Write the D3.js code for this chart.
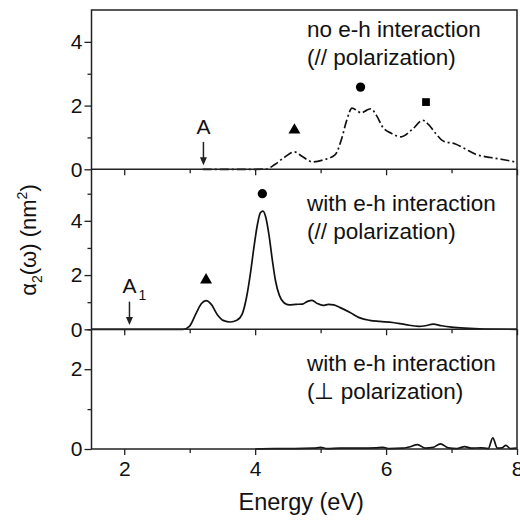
<!DOCTYPE html>
<html>
<head>
<meta charset="utf-8">
<script src="https://cdn.jsdelivr.net/npm/d3@7"></script>
<style>
  body { margin: 0; background: #fff; }
  text { font-family: "Liberation Sans", Arial, sans-serif; fill: #111; }
</style>
</head>
<body>
<div id="chart"></div>
<script>
// energies (eV) and alpha2 values (nm^2)
const noEhE = [3.2, 3.4, 3.6, 3.8, 4.0, 4.17, 4.3, 4.45, 4.6, 4.72, 4.88, 5.05, 5.22, 5.32, 5.4, 5.48, 5.55, 5.62, 5.7, 5.77, 5.85, 5.95, 6.08, 6.23, 6.4, 6.56, 6.65, 6.76, 6.88, 7.05, 7.2, 7.37, 7.6, 7.8, 8.0];
const noEhV = [0, 0, 0, 0, 0, 0.01, 0.15, 0.38, 0.55, 0.4, 0.23, 0.3, 0.45, 0.95, 1.55, 1.92, 1.85, 1.77, 1.85, 1.9, 1.7, 1.32, 1.13, 1.02, 1.25, 1.54, 1.4, 1.12, 0.88, 0.8, 0.65, 0.47, 0.37, 0.3, 0.22];

const ehParE = [1.5, 2.9, 3.0, 3.1, 3.18, 3.25, 3.33, 3.42, 3.52, 3.62, 3.72, 3.8, 3.87, 3.93, 3.98, 4.03, 4.08, 4.12, 4.16, 4.21, 4.26, 4.31, 4.37, 4.44, 4.52, 4.62, 4.72, 4.8, 4.87, 4.95, 5.04, 5.12, 5.2, 5.3, 5.45, 5.6, 5.75, 5.9, 6.1, 6.3, 6.5, 6.6, 6.72, 6.85, 7.0, 7.2, 7.5, 8.0];
const ehParV = [0, 0, 0.12, 0.6, 0.95, 1.06, 0.92, 0.55, 0.32, 0.27, 0.33, 0.55, 1.2, 2.1, 3.0, 3.8, 4.3, 4.36, 4.15, 3.5, 2.6, 1.8, 1.25, 0.98, 0.9, 0.92, 0.93, 1.03, 1.07, 0.95, 0.88, 0.92, 0.9, 0.8, 0.62, 0.42, 0.33, 0.29, 0.25, 0.17, 0.11, 0.13, 0.19, 0.13, 0.08, 0.04, 0.01, 0];

const ehPerpE = [4.0, 4.3, 4.6, 4.9, 5.0, 5.1, 5.3, 5.6, 5.85, 5.95, 6.05, 6.25, 6.35, 6.48, 6.6, 6.72, 6.83, 6.95, 7.08, 7.2, 7.3, 7.45, 7.56, 7.63, 7.7, 7.77, 7.83, 7.9, 8.0];
const ehPerpV = [0, 0.01, 0.01, 0.02, 0.04, 0.01, 0.02, 0.02, 0.03, 0.04, 0.01, 0.02, 0.05, 0.11, 0.02, 0.04, 0.13, 0.03, 0.01, 0.06, 0.02, 0.03, 0.01, 0.28, 0.02, 0.03, 0.09, 0.01, 0.02];

// axis ranges and ticks
const xDomain = [1.5, 8];
const xMajor = [2, 4, 6, 8];
const xMinor = [3, 5, 7];
const yDomains = [[0, 5], [0, 5.9], [0, 3]];
const yMajor = [[0, 2, 4], [0, 2, 4], [0, 2]];
const yMinor = [[1, 3], [1, 3, 5], [1, 3]];

// panel labels
const panelLine1 = ["no e-h interaction", "with e-h interaction", "with e-h interaction"];
const panelLine2 = ["(// polarization)", "(// polarization)", "(\u22a5 polarization)"];

// peak markers: [panel, shape, energy, value]
const markers = [
  [0, "triangle", 4.6, 1.23],
  [0, "circle", 5.61, 2.58],
  [0, "square", 6.61, 2.11],
  [1, "triangle", 3.25, 1.82],
  [1, "circle", 4.11, 5.0]
];
// arrows: [panel, label, sub, energy, textValue, arrowFrom, arrowTo]
const arrows = [
  [0, "A", "", 3.21, 1.12, 0.86, 0.13],
  [1, "A", "1", 2.08, 1.33, 1.02, 0.16]
];

const W = 520, H = 520;
const left = 91.5, right = 517;
const panelTops = [10, 169.3, 329.3];
const panelBots = [169.3, 329.3, 449];

const svg = d3.select("#chart").append("svg")
  .attr("width", W).attr("height", H);

const x = d3.scaleLinear().domain(xDomain).range([left, right]);
const ys = yDomains.map((d, i) => d3.scaleLinear().domain(d).range([panelBots[i], panelTops[i]]));

const series = [
  { e: noEhE, v: noEhV, dash: "9,3,2,3" },
  { e: ehParE, v: ehParV, dash: null },
  { e: ehPerpE, v: ehPerpV, dash: null }
];

const tickColor = "#222";

series.forEach((s, i) => {
  const y = ys[i];
  const g = svg.append("g");

  // y axis major ticks with labels
  g.append("g")
    .attr("transform", `translate(${left},0)`)
    .call(d3.axisLeft(y).tickValues(yMajor[i]).tickFormat(d3.format("d")).tickSize(7).tickPadding(2))
    .call(a => a.select(".domain").remove())
    .call(a => a.selectAll("line").attr("stroke", tickColor).attr("stroke-width", 1.3))
    .call(a => a.selectAll("text").attr("font-size", 21).attr("fill", "#111")
      .attr("font-family", "Liberation Sans, Arial, sans-serif"));
  // y minor ticks
  g.append("g")
    .attr("transform", `translate(${left},0)`)
    .call(d3.axisLeft(y).tickValues(yMinor[i]).tickFormat("").tickSize(4))
    .call(a => a.select(".domain").remove())
    .call(a => a.selectAll("line").attr("stroke", tickColor).attr("stroke-width", 1.3));

  // x ticks below each panel
  g.append("g")
    .attr("transform", `translate(0,${panelBots[i]})`)
    .call(d3.axisBottom(x).tickValues(xMajor).tickSize(6).tickPadding(6)
      .tickFormat(i === 2 ? d3.format("d") : ""))
    .call(a => a.select(".domain").remove())
    .call(a => a.selectAll("line").attr("stroke", tickColor).attr("stroke-width", 1.3))
    .call(a => a.selectAll("text").attr("font-size", 21).attr("fill", "#111")
      .attr("font-family", "Liberation Sans, Arial, sans-serif"));
  g.append("g")
    .attr("transform", `translate(0,${panelBots[i]})`)
    .call(d3.axisBottom(x).tickValues(xMinor).tickSize(4).tickFormat(""))
    .call(a => a.select(".domain").remove())
    .call(a => a.selectAll("line").attr("stroke", tickColor).attr("stroke-width", 1.3));

  // curve
  const line = d3.line()
    .x((d, k) => x(s.e[k]))
    .y((d, k) => y(s.v[k]))
    .curve(d3.curveMonotoneX);
  g.append("path")
    .datum(s.v)
    .attr("d", line)
    .attr("fill", "none")
    .attr("stroke", "#111")
    .attr("stroke-width", 1.7)
    .attr("stroke-dasharray", s.dash);

  // panel label
  const tx = 307;
  g.append("text").attr("x", tx).attr("y", panelTops[i] + (i === 0 ? 26.7 : 41.5))
    .attr("font-size", 22.5).text(panelLine1[i]);
  g.append("text").attr("x", tx).attr("y", panelTops[i] + (i === 0 ? 55 : 69.5))
    .attr("font-size", 22.5).text(panelLine2[i]);
});

// frame: panel separators and border
const frame = svg.append("g").attr("fill", "none").attr("stroke", "#222").attr("stroke-width", 1.5);
frame.append("rect").attr("x", left).attr("y", panelTops[0])
  .attr("width", right - left).attr("height", panelBots[2] - panelTops[0]);
[panelBots[0], panelBots[1]].forEach(py => {
  frame.append("line").attr("x1", left).attr("x2", right).attr("y1", py).attr("y2", py);
});

// peak markers
const sym = { triangle: d3.symbolTriangle, circle: d3.symbolCircle, square: d3.symbolSquare };
const symSize = { triangle: 62, circle: 68, square: 60 };
svg.selectAll(".marker")
  .data(markers)
  .join("path")
  .attr("class", "marker")
  .attr("transform", d => `translate(${x(d[2])},${ys[d[0]](d[3])})`)
  .attr("d", d => d3.symbol().type(sym[d[1]]).size(symSize[d[1]])())
  .attr("fill", "#000");

// A / A1 arrows
arrows.forEach(a => {
  const y = ys[a[0]];
  const ax = x(a[3]);
  const t = svg.append("text").attr("x", ax).attr("y", y(a[4]))
    .attr("text-anchor", "middle").attr("font-size", 21).text(a[1]);
  if (a[2]) {
    svg.append("text").attr("x", ax + 9).attr("y", y(a[4]) + 7)
      .attr("font-size", 14).text(a[2]);
  }
  const y1 = y(a[5]), y2 = y(a[6]);
  svg.append("line").attr("x1", ax).attr("x2", ax).attr("y1", y1).attr("y2", y2 - 6)
    .attr("stroke", "#222").attr("stroke-width", 1.5);
  svg.append("path")
    .attr("d", `M${ax - 3.5},${y2 - 8}L${ax + 3.5},${y2 - 8}L${ax},${y2}Z`)
    .attr("fill", "#222");
});

// axis titles
svg.append("text")
  .attr("x", (left + right) / 2 - 3).attr("y", 510)
  .attr("text-anchor", "middle").attr("font-size", 23.5)
  .text("Energy (eV)");

const yl = svg.append("text")
  .attr("transform", "translate(36,240) rotate(-90)")
  .attr("text-anchor", "middle").attr("font-size", 22);
yl.append("tspan").text("\u03b1");
yl.append("tspan").attr("font-size", 14).attr("dy", 6).text("2");
yl.append("tspan").attr("dy", -6).text("(\u03c9) (nm");
yl.append("tspan").attr("font-size", 14).attr("dy", -9).text("2");
yl.append("tspan").attr("dy", 9).text(")");
</script>
</body>
</html>
